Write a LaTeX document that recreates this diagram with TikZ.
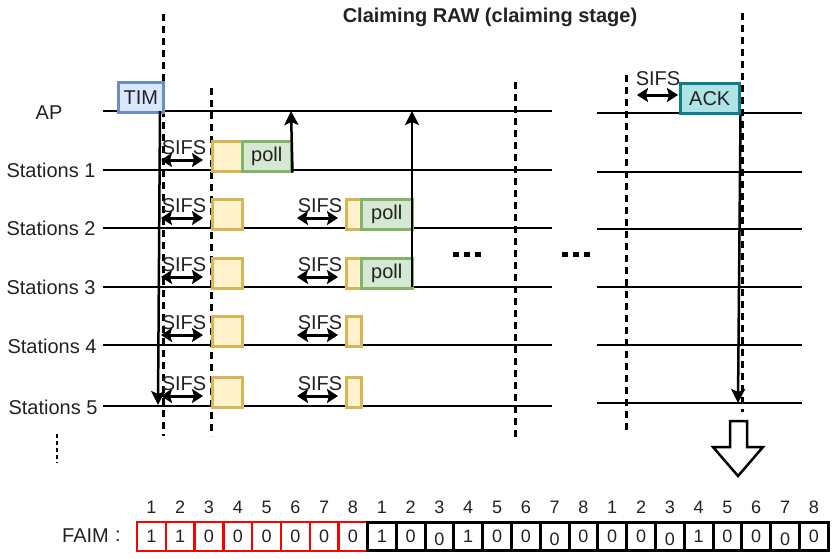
\documentclass[tikz,border=0pt]{standalone}
\usepackage{fontspec}
\setmainfont{Liberation Sans}
\usetikzlibrary{arrows.meta}
\definecolor{timfill}{HTML}{DAE8FC}
\definecolor{timdraw}{HTML}{6C8EBF}
\definecolor{yfill}{HTML}{FFF2CC}
\definecolor{ydraw}{HTML}{D6B656}
\definecolor{gfill}{HTML}{D5E8D4}
\definecolor{gdraw}{HTML}{82B366}
\definecolor{afill}{HTML}{B0E3E6}
\definecolor{adraw}{HTML}{0E8088}
\definecolor{txt}{HTML}{222222}
\tikzset{
  lbl/.style={font=\fontsize{20}{22}\selectfont, text=txt, inner sep=0pt},
  timeline/.style={line width=2.5pt},
  dline/.style={line width=3pt, dash pattern=on 7pt off 5pt},
  rect/.style={line width=2.5pt, inner sep=0pt, anchor=north west, font=\fontsize{20}{22}\selectfont, text=txt},
  timbox/.style={rect, draw=timdraw, fill=timfill},
  ybox/.style={rect, draw=ydraw, fill=yfill},
  pollbox/.style={rect, draw=gdraw, fill=gfill},
  ackbox/.style={rect, draw=adraw, fill=afill},
  sifsarr/.style={line width=3pt, {Stealth[length=11pt,width=14pt,inset=2pt]}-{Stealth[length=11pt,width=14pt,inset=2pt]}},
  uparr/.style={line width=2.5pt, -{Stealth[length=14pt,width=14pt,inset=3pt]}},
  dot/.style={fill=black, minimum width=6pt, minimum height=5pt, inner sep=0pt},
  redcell/.style={draw=red, line width=2.5pt, minimum width=28.8pt, minimum height=28.8pt, inner sep=0pt},
  blkcell/.style={draw=black, line width=3pt, minimum width=28.8pt, minimum height=28.8pt, inner sep=0pt},
  val/.style={font=\fontsize{18}{20}\selectfont, text=txt, inner sep=0pt},
  idx/.style={font=\fontsize{18}{20}\selectfont, text=txt, inner sep=0pt}
}
\begin{document}
\begin{tikzpicture}[x=1pt,y=-1pt]
\useasboundingbox (0,0) rectangle (832,558);

% title
\node[font=\bfseries\fontsize{20}{22}\selectfont, text=txt, inner sep=0pt] (title) at (490,17) {Claiming RAW (claiming stage)};

% dashed vertical lines
\coordinate (d1t) at (163,14); \coordinate (d1b) at (163,436);
\coordinate (d2t) at (211,88); \coordinate (d2b) at (211,436);
\coordinate (d3t) at (515,82); \coordinate (d3b) at (515,437);
\coordinate (d4t) at (626,75); \coordinate (d4b) at (626,432);
\coordinate (d5t) at (742,13); \coordinate (d5b) at (742,412);
\draw[dline] (d1t) -- (d1b);
\draw[dline] (d2t) -- (d2b);
\draw[dline] (d3t) -- (d3b);
\draw[dline] (d4t) -- (d4b);
\draw[dline] (d5t) -- (d5b);

% time lines
\foreach \n/\yl/\yr in {0/111/113, 1/170/172, 2/228/229, 3/287/287, 4/345/345, 5/406/403} {
  \coordinate (L\n a) at (103,\yl); \coordinate (L\n b) at (552,\yl);
  \coordinate (R\n a) at (597,\yr); \coordinate (R\n b) at (802,\yr);
  \draw[timeline] (L\n a) -- (L\n b);
  \draw[timeline] (R\n a) -- (R\n b);
}

% labels
\node[lbl] (lap) at (49,113) {AP};
\node[lbl] (ls1) at (51,170) {Stations 1};
\node[lbl] (ls2) at (51,228) {Stations 2};
\node[lbl] (ls3) at (51,287) {Stations 3};
\node[lbl] (ls4) at (52,346) {Stations 4};
\node[lbl] (ls5) at (53,407) {Stations 5};

% TIM
\node[timbox, minimum width=45pt, minimum height=30pt] (tim) at (117,81) {TIM};
\coordinate (timdown) at (160,111);
\coordinate (timend) at (158,405);
\draw[uparr] (timdown) -- (timend);

% first SIFS on each station
\foreach \n/\yy in {1/170, 2/228, 3/287, 4/345, 5/406} {
  \coordinate (sa\n) at (161,\yy-10); \coordinate (sb\n) at (203,\yy-10);
  \draw[sifsarr] (sa\n) -- (sb\n);
  \node[lbl] (st\n) at (184,\yy-22) {SIFS};
  \node[ybox, minimum width=30pt, minimum height=30pt] (yb\n) at (211,\yy-30) {};
}

% station 1 poll
\node[pollbox, minimum width=49pt, minimum height=30pt] (poll1) at (241,140) {poll};
\coordinate (ap1) at (291,111);
\draw[uparr] (poll1.south east) -- (ap1);

% second SIFS on stations 2-5
\foreach \n/\yy in {2/228, 3/287, 4/345, 5/406} {
  \coordinate (sc\n) at (297,\yy-10); \coordinate (sd\n) at (338,\yy-10);
  \draw[sifsarr] (sc\n) -- (sd\n);
  \node[lbl] (su\n) at (320,\yy-22) {SIFS};
  \node[ybox, minimum width=15pt, minimum height=30pt] (ys\n) at (345,\yy-30) {};
}
\node[pollbox, minimum width=51pt, minimum height=30pt] (poll2) at (360,198) {poll};
\node[pollbox, minimum width=51pt, minimum height=30pt] (poll3) at (360,257) {poll};
\coordinate (ap2) at (412,111);
\coordinate (p3r) at (412,287);
\draw[uparr] (p3r) -- (ap2);

% dots
\foreach \i/\xx in {1/456, 2/467, 3/478} { \node[dot] (da\i) at (\xx,254) {}; }
\foreach \i/\xx in {1/565, 2/576, 3/587} { \node[dot] (db\i) at (\xx,254) {}; }

% ACK
\node[ackbox, minimum width=59pt, minimum height=30pt] (ack) at (679,82) {ACK};
\coordinate (se) at (637,95); \coordinate (sf) at (678,95);
\draw[sifsarr] (se) -- (sf);
\node[lbl] (sack) at (658,79) {SIFS};
\coordinate (ackend) at (738,403);
\draw[uparr] (ack.south east) -- (ackend);

% hollow arrow
\draw[line width=2.5pt, fill=white, line join=miter]
  (730,421) -- (747,421) -- (747,447) -- (763,447) -- (738,476) -- (713,447) -- (730,447) -- cycle;

% small dashed mark
\coordinate (sm1) at (57,434); \coordinate (sm2) at (57,463);
\draw[line width=1.5pt, dash pattern=on 4pt off 3pt] (sm1) -- (sm2);

% FAIM
\node[font=\fontsize{20}{22}\selectfont, text=txt, anchor=west, inner sep=0pt] (faim) at (62,536) {FAIM};
\node[font=\fontsize{20}{22}\selectfont, text=txt, inner sep=0pt] (colon) at (118,536) {:};
\foreach \i/\v/\lo in {0/1/0,1/1/0,2/0/0,3/0/0,4/0/0,5/0/0,6/0/0,7/0/0} {
  \node[redcell] (c\i) at (151.4+28.8*\i,536.5) {};
  \node[val] (v\i) at (151.4+28.8*\i,536.5+\lo) {\v};
}
\foreach \i/\v/\lo in {8/1/0,9/0/0,10/0/3,11/1/0,12/0/0,13/0/0,14/0/3,15/0/0,16/0/0,17/0/0,18/0/3,19/1/0,20/0/0,21/0/0,22/0/3,23/0/0} {
  \node[blkcell] (c\i) at (151.4+28.8*\i,536.5) {};
  \node[val] (v\i) at (151.4+28.8*\i,536.5+\lo) {\v};
}
\foreach \i in {0,...,23} {
  \pgfmathtruncatemacro{\k}{mod(\i,8)+1}
  \node[idx] (n\i) at (151.4+28.8*\i,507) {\k};
}
\end{tikzpicture}
\end{document}
